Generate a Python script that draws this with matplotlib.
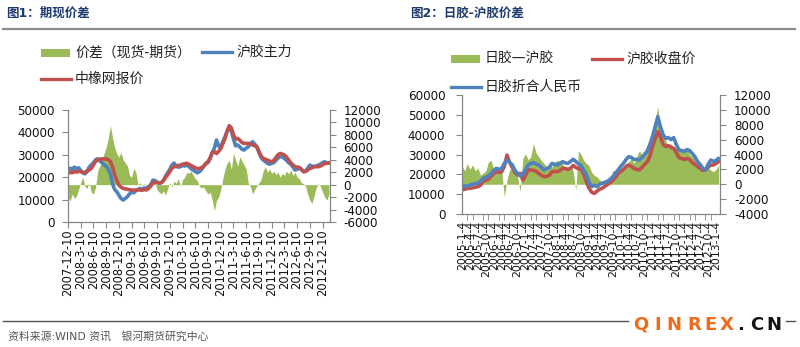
import numpy as np
import matplotlib.pyplot as plt
from matplotlib.lines import Line2D
from matplotlib.patches import Rectangle

plt.rcParams['font.family'] = ['DejaVu Sans', 'Noto Sans CJK SC']
plt.rcParams['axes.unicode_minus'] = False

GREEN = '#9bbb59'
BLUE = '#4f81bd'
RED = '#c0504d'
AXCOL = '#868686'
TITLE_COL = '#1f3b6e'

# ---- 图1 data: half-month steps starting 2007-12-10 ----
f1_labels = ['2007-12-10', '2008-3-10', '2008-6-10', '2008-9-10', '2008-12-10',
             '2009-3-10', '2009-6-10', '2009-9-10', '2009-12-10', '2010-3-10',
             '2010-6-10', '2010-9-10', '2010-12-10', '2011-3-10', '2011-6-10',
             '2011-9-10', '2011-12-10', '2012-3-10', '2012-6-10', '2012-9-10',
             '2012-12-10']
# 沪胶主力
f1_main = [23200, 24000, 23500, 24500, 23800, 24200, 23000, 22000, 21500, 22500,
           24500, 25500, 26500, 27800, 28200, 27200, 26500, 25500, 25000, 23500,
           21500, 17000, 14500, 13500, 12000, 10500, 9800, 10500, 11300, 12500,
           13500, 13000, 14000, 14500, 15000, 14500, 15200, 15000, 15800, 16500,
           18700, 18500, 17800, 17400, 17500, 18500, 20500, 22000, 23500, 25500,
           26300, 25000, 24500, 24700, 25200, 25000, 25400, 24800, 23800, 23200,
           22500, 22000, 22500, 23500, 24800, 26000, 26500, 28500, 31000, 33000,
           36600, 34000, 33000, 36000, 38000, 40500, 42000, 40500, 37000, 34000,
           34400, 33500, 32500, 32100, 33000, 33600, 35000, 35800, 34800, 33600,
           31000, 28800, 27700, 27000, 26200, 25800, 26200, 26500, 27500, 28500,
           29200, 29000, 28400, 27500, 26500, 25800, 24500, 23200, 23500, 24000,
           23500, 22500, 22800, 24000, 25400, 25000, 24700, 25000, 25400, 25800,
           26500, 26900, 26200, 26500]
# 中橡网报价
f1_spot = [21900, 22200, 22000, 22500, 22300, 22600, 22500, 22000, 22200, 22800,
           23200, 24000, 25500, 27000, 27800, 28000, 28200, 28100, 28100, 27800,
           27000, 24500, 21000, 18500, 16500, 15500, 15000, 14800, 14600, 14400,
           14300, 14200, 14300, 14400, 14300, 14200, 14500, 14300, 15000, 16000,
           17400, 17800, 17500, 17400, 17600, 18500, 20000, 21000, 22500, 24000,
           24700, 24800, 25200, 25400, 25800, 26000, 26200, 25800, 25200, 24700,
           24200, 23900, 23900, 24300, 25000, 26200, 27000, 28500, 31000, 31400,
           30600, 31500, 32800, 35000, 37300, 40500, 43000, 42000, 39000, 37000,
           37300, 36500, 35500, 35100, 35100, 35100, 34800, 34400, 34000, 33600,
           31500, 29500, 28400, 28000, 27700, 27200, 26900, 27500, 28800, 30000,
           30600, 30300, 29900, 29000, 27700, 26500, 25500, 24700, 24500, 24400,
           23500, 22500, 22500, 23200, 23900, 24200, 24700, 24700, 24700, 25000,
           25500, 26200, 26200, 26300]
# 价差（现货-期货）
f1_basis = [-2000, -2600, -1500, -2200, -1800, -800, 400, 1200, -300, -600,
            300, -1200, -1500, -400, 2200, 3000, 4000, 5000, 6000, 7500,
            9500, 7500, 6000, 5000, 4400, 5200, 4000, 3500, 3000, 1500,
            1200, 2600, 2000, 0, 300, -200, 200, -300, 400, -200,
            0, 300, -800, -1200, -1500, -1000, -1700, -600, 300, -300,
            600, 200, 1000, -300, 800, 1200, 2000, 1800, 2200, 1500,
            1000, 600, -300, -500, -400, -1000, -1500, -1200, -2500, -4200,
            -2500, -2000, -800, 1000, 2500, 3500, 3900, 2500, 5000, 4000,
            3000, 4500, 3800, 3200, 2500, 200, -300, -1500, -800, -200,
            300, 800, 2200, 2900, 2000, 2500, 1800, 2200, 1600, 2000,
            1200, 1800, 1500, 2200, 1700, 2400, 1500, 2000, 1200, 1000,
            300, 200, -300, -1500, -2500, -3000, -1800, -500, 200, -300,
            -1200, -2000, -2500, -1500]

# ---- 图2 data: monthly steps starting 2005-1-4 ----
f2_labels = ['2005-1-4', '2005-4-4', '2005-7-4', '2005-10-4',
             '2006-1-4', '2006-4-4', '2006-7-4', '2006-10-4',
             '2007-1-4', '2007-4-4', '2007-7-4', '2007-10-4',
             '2008-1-4', '2008-4-4', '2008-7-4', '2008-10-4',
             '2009-1-4', '2009-4-4', '2009-7-4', '2009-10-4',
             '2010-1-4', '2010-4-4', '2010-7-4', '2010-10-4',
             '2011-1-4', '2011-4-4', '2011-7-4', '2011-10-4',
             '2012-1-4', '2012-4-4', '2012-7-4', '2012-10-4',
             '2013-1-4']
# 日胶折合人民币
f2_tocom = [13800, 14200, 14000, 14600, 15000, 15300, 15500, 16500, 18000, 18500,
            19200, 20500, 22000, 23000, 22500, 23000, 25500, 27200, 26000, 24700,
            22000, 20500, 19200, 20000, 22500, 24700, 25500, 25900, 25200, 24700,
            23500, 22200, 23000, 23500, 25500, 25000, 24800, 25500, 26400, 25800,
            25500, 26500, 27600, 26500, 25200, 24500, 22000, 19700, 16000, 13800,
            14500, 13800, 15000, 15500, 16000, 16500, 17500, 18800, 20500, 22200,
            24000, 25500, 27500, 28900, 28500, 27500, 27500, 27200, 28500, 30000,
            31500, 35000, 39000, 44000, 49000, 44000, 40000, 38100, 38500, 37500,
            38500, 35000, 32300, 32000, 31500, 32500, 32000, 30500, 28900, 26500,
            25000, 23000, 22200, 25000, 27200, 26500, 27000, 28100]
# 沪胶收盘价
f2_shfe = [12100, 12500, 12800, 13000, 13200, 13500, 13800, 14500, 16500, 17000,
           17500, 19000, 20500, 21300, 21000, 21300, 24000, 29700, 26000, 23500,
           21000, 19700, 20500, 17100, 19500, 22200, 22200, 22000, 21500, 20500,
           19500, 18800, 19000, 19500, 21300, 21500, 21300, 22000, 23000, 23000,
           22500, 23000, 24500, 23500, 22800, 22500, 20000, 16300, 13000, 11000,
           10400, 11500, 12500, 13000, 14000, 14800, 15800, 17000, 18500, 20500,
           21500, 22500, 24000, 24700, 24000, 23000, 22500, 22200, 23500, 25000,
           26400, 29000, 34000, 38000, 41500, 39000, 35000, 34000, 34500, 33500,
           33100, 31000, 28400, 28000, 27500, 28000, 27500, 26000, 25000, 24000,
           23000, 22000, 22200, 23500, 24700, 24700, 25500, 26400]
# 日胶—沪胶
f2_spread = [2500, 1800, 2800, 2000, 2600, 1800, 2200, 1200, 1500, 1800,
             3000, 3200, 2000, 1600, 1400, 1800, -1700, 600, 1900, 2200,
             1600, 1000, -1000, 3500, 4100, 3300, 3700, 5500, 4200, 3700,
             3200, 2800, 2300, 2500, 2300, 3000, 3200, 3000, 2800, 2100,
             2000, 2500, 1800, -800, 4500, 4000, 3200, 2800, 2500, 1600,
             1200, 1000, 600, 300, 400, 200, 800, 1800, 1900, 2000,
             1700, 2200, 2800, 3000, 3500, 2800, 3700, 4500, 4000, 4600,
             5200, 6300, 7500, 8800, 10400, 7200, 6500, 5900, 5000, 5500,
             4800, 5000, 4500, 4800, 4200, 4800, 4000, 3700, 3300, 3000,
             2500, 2300, 2000, 2200, 1900, 1700, 2000, 2600]

W, H = 800, 347


def fx(px):
    return px / W


def fy(py):
    return 1 - py / H


def panel(fig, box, x, lines, area, ylim, yrlim, ystep, yrstep,
          xticks, xlabels, xmax, lpad, rpad, xpad, xfont, minor_step=None):
    left, top, right, bottom = box
    ax = fig.add_axes([fx(left), fy(bottom), (right - left) / W, (bottom - top) / H])
    axr = ax.twinx()
    axr.fill_between(x, 0, area, color=GREEN, lw=0)
    for vals, col in lines:
        ax.plot(x, vals, color=col, lw=2.6, solid_capstyle='round')
    ax.set_zorder(axr.get_zorder() + 1)
    ax.patch.set_visible(False)

    ax.set_xlim(0, xmax)
    ax.set_ylim(*ylim)
    axr.set_ylim(*yrlim)
    ax.set_yticks(np.arange(ylim[0], ylim[1] + 1, ystep))
    axr.set_yticks(np.arange(yrlim[0], yrlim[1] + 1, yrstep))
    ax.set_xticks(xticks)
    ax.set_xticklabels(xlabels, rotation=90, fontsize=xfont, color='#111111')

    for a in (ax, axr):
        a.spines['top'].set_visible(False)
        for s in a.spines.values():
            s.set_color(AXCOL)
            s.set_linewidth(0.9)
    ax.spines['right'].set_visible(False)
    axr.spines['left'].set_visible(False)
    axr.spines['bottom'].set_visible(False)

    ax.tick_params(axis='y', direction='out', length=4, color=AXCOL,
                   labelsize=8.6, pad=lpad, labelcolor='#111111')
    axr.tick_params(axis='y', direction='out', length=4, color=AXCOL,
                    labelsize=8.6, pad=rpad, labelcolor='#111111')
    if minor_step is None:
        ax.tick_params(axis='x', direction='out', length=4, color=AXCOL, pad=xpad)
    else:
        ax.set_xticks(np.arange(0, xmax, minor_step), minor=True)
        ax.tick_params(axis='x', which='major', length=0, pad=xpad + 3)
        ax.tick_params(axis='x', which='minor', direction='out', length=4, color=AXCOL)
    return ax, axr


def legend_item(fig, kind, x0, y, color, text):
    if kind == 'patch':
        fig.add_artist(Rectangle((fx(x0), fy(y + 4)), 29 / W, 8 / H,
                                 transform=fig.transFigure, color=color, lw=0))
    else:
        fig.add_artist(Line2D([fx(x0), fx(x0 + 30)], [fy(y), fy(y)],
                              transform=fig.transFigure, color=color, lw=2.4))
    fig.text(fx(x0 + 34), fy(y), text, fontsize=10, va='center', ha='left',
             color='#222222')


fig = plt.figure(figsize=(8, 3.47), dpi=100)

# titles and header rule
fig.text(fx(6), fy(13), '图1：期现价差', fontsize=9, fontweight='bold',
         color=TITLE_COL, va='center', ha='left')
fig.text(fx(410), fy(13), '图2：日胶-沪胶价差', fontsize=9, fontweight='bold',
         color=TITLE_COL, va='center', ha='left')
fig.add_artist(Line2D([fx(3), fx(795)], [fy(29), fy(29)], transform=fig.transFigure,
                      color='#8c8c8c', lw=1.6))

# legends
legend_item(fig, 'patch', 41, 53, GREEN, '价差（现货-期货）')
legend_item(fig, 'line', 202, 52, BLUE, '沪胶主力')
legend_item(fig, 'line', 41, 79, RED, '中橡网报价')

legend_item(fig, 'patch', 451, 59, GREEN, '日胶—沪胶')
legend_item(fig, 'line', 592, 59, RED, '沪胶收盘价')
legend_item(fig, 'line', 451, 87, BLUE, '日胶折合人民币')

# panel 1
x1 = np.arange(len(f1_main))
panel(fig, (68, 110, 330, 222), x1,
      [(f1_main, BLUE), (f1_spot, RED)], f1_basis,
      (0, 50000), (-6000, 12000), 10000, 2000,
      np.arange(0, 6 * len(f1_labels), 6), f1_labels, 123.5,
      lpad=5.5, rpad=5.5, xpad=1.5, xfont=8.3)

# panel 2
x2 = np.arange(len(f2_tocom))
panel(fig, (462, 95, 720, 214), x2,
      [(f2_shfe, RED), (f2_tocom, BLUE)], f2_spread,
      (0, 60000), (-4000, 12000), 10000, 2000,
      np.arange(0, 3 * len(f2_labels), 3), f2_labels, 97.5,
      lpad=8, rpad=6, xpad=2, xfont=7.8, minor_step=2)

# footer
fig.add_artist(Line2D([fx(3), fx(628)], [fy(321), fy(321)], transform=fig.transFigure,
                      color='#555555', lw=1.0))
fig.add_artist(Line2D([fx(786), fx(795)], [fy(321), fy(321)], transform=fig.transFigure,
                      color='#555555', lw=1.0))
fig.text(fx(8), fy(336), '资料来源:WIND 资讯   银河期货研究中心', fontsize=7.8,
         color='#555555', va='center', ha='left')

wm_chars = ['Q', 'I', 'N', 'R', 'E', 'X', '.', 'C', 'N']
wm_pos = [641, 658, 674, 694, 711, 727, 741, 757, 774]
for i, (ch, px) in enumerate(zip(wm_chars, wm_pos)):
    col = '#f26b1d' if i < 6 else '#111111'
    fig.text(fx(px), fy(325), ch, fontsize=13, fontweight='bold', color=col,
             ha='center', va='center', family='DejaVu Sans')

fig.savefig('out.png', dpi=100)
